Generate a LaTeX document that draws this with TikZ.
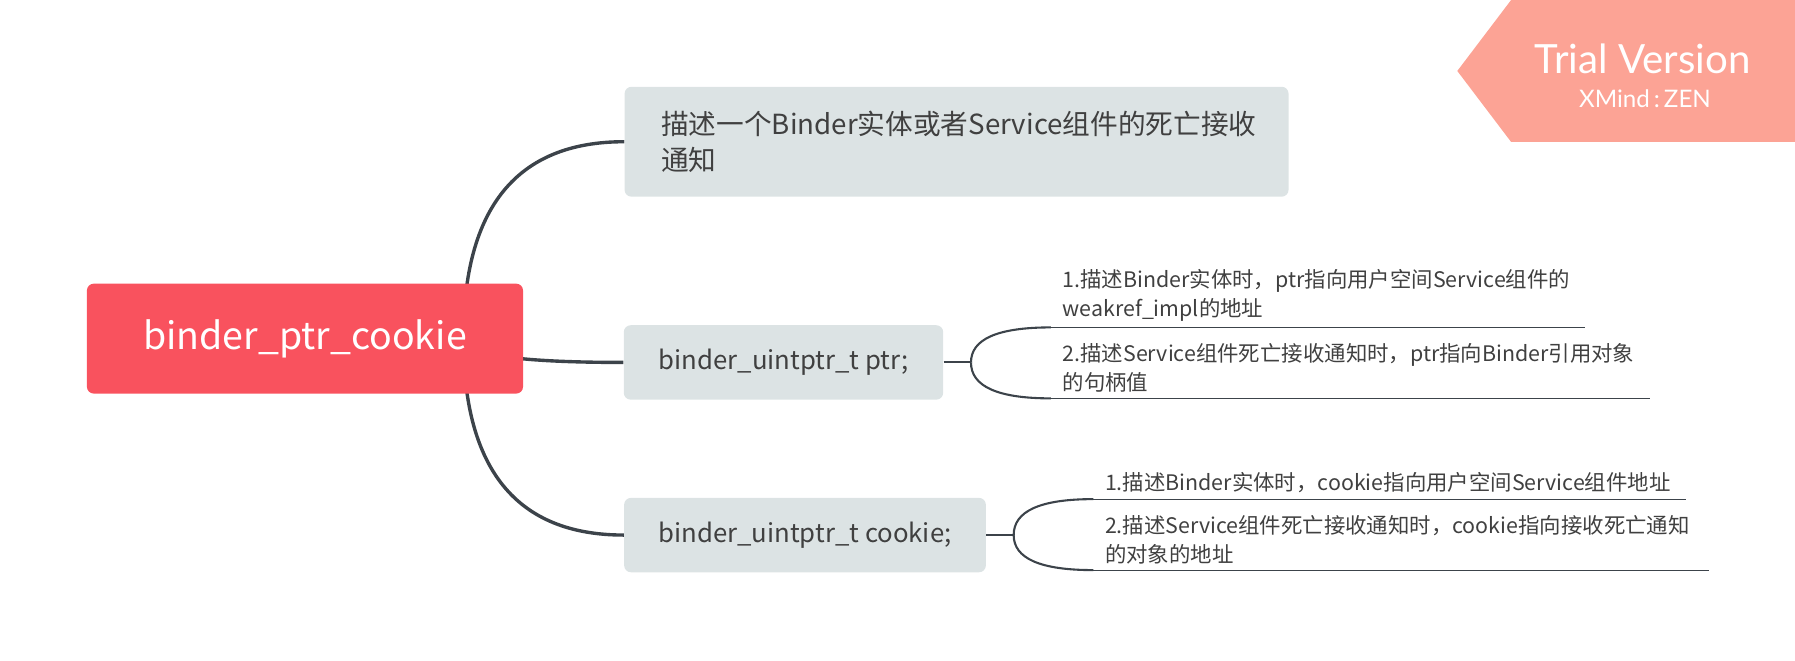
\documentclass[tikz,border=0pt]{standalone}
\usepackage{fontspec}
\usepackage{xcolor}
\usepackage{tikz}
\setmainfont{Noto Sans CJK SC}
\newfontfamily\badgefont{Lato}
\definecolor{rootred}{HTML}{F9525E}
\definecolor{topicgray}{HTML}{DCE3E4}
\definecolor{linegray}{HTML}{3C434A}
\definecolor{textgray}{HTML}{404040}
\definecolor{trialpink}{HTML}{FCA395}
\usetikzlibrary{calc, backgrounds}

\tikzset{
	topic/.style = {rectangle, rounded corners = 0.15cm, fill = topicgray, text = textgray, font = \fontsize{17.2}{22.7}\selectfont, align = left, inner xsep = 0.8cm, minimum height = 1.625cm},
	code/.style = {topic, font = \fontsize{16}{20}\selectfont, inner xsep = 0.5cm},
	leaf/.style = {anchor = south west, text = textgray, font = \fontsize{13.3}{17.7}\selectfont, align = left, inner xsep = 0.25cm, inner ysep = 0.13cm},
	branch/.style = {line width = 2.1pt, linegray},
	twig/.style = {line width = 1.3pt, linegray},
	uline/.style = {line width = 0.7pt, linegray},
	mindcurve/.style = {to path = {.. controls ($(\tikztostart)!0.667!(\tikztostart |- \tikztotarget)$) and ($(\tikztotarget)!0.667!(\tikztostart |- \tikztotarget)$) .. (\tikztotarget)}}
}

\begin{document}
\begin{tikzpicture}
	\useasboundingbox (0,0) rectangle (39.2,14.425);
	
	\node[rectangle, rounded corners = 0.15cm, fill = rootred, text = white, font = \fontsize{23.3}{28}\selectfont, minimum width = 9.525cm, minimum height = 2.4cm, xshift = 6.66cm, yshift = 7.03cm] (root) {binder\_ptr\_cookie};
	
	\node[topic, text width = 12.9cm, minimum height = 2.4cm, xshift = 20.89cm, yshift = 11.33cm] (nA) {描述一个Binder实体或者Service组件的死亡接收\\通知};
	\node[code, minimum width = 6.975cm, xshift = 17.11cm, yshift = 6.51cm] (nB) {binder\_uintptr\_t ptr;};
	\node[code, minimum width = 7.9cm, xshift = 17.58cm, yshift = 2.74cm] (nC) {binder\_uintptr\_t cookie;};
	
	\node[leaf, text width = 11.15cm, xshift = 22.95cm, yshift = 7.275cm] (lB1) {1.描述Binder实体时，ptr指向用户空间Service组件的\\weakref\_impl的地址};
	\node[leaf, text width = 12.575cm, xshift = 22.95cm, yshift = 5.725cm] (lB2) {2.描述Service组件死亡接收通知时，ptr指向Binder引用对象\\的句柄值};
	\node[leaf, text width = 12.425cm, xshift = 23.875cm, yshift = 3.525cm] (lC1) {1.描述Binder实体时，cookie指向用户空间Service组件地址};
	\node[leaf, text width = 12.925cm, xshift = 23.875cm, yshift = 1.975cm] (lC2) {2.描述Service组件死亡接收通知时，cookie指向接收死亡通知\\的对象的地址};
	
	\coordinate (rO) at ($(root.center)+(3.46,0)$);
	\coordinate (bB) at ($(nB.east)+(0.6,0)$);
	\coordinate (bC) at ($(nC.east)+(0.6,0)$);
	
	% main branches
	\begin{scope}[on background layer]
		\draw[branch] (rO) to[mindcurve] (nA.west);
		\draw[branch] (rO) to[mindcurve] (nB.west);
		\draw[branch] (rO) to[mindcurve] (nC.west);
	\end{scope}
	
	% sub branches
	\draw[twig] (nB.east) -- (bB);
	\draw[twig] (bB) to[mindcurve] (lB1.south west);
	\draw[twig] (bB) to[mindcurve] (lB2.south west);
	\draw[uline] (lB1.south west) -- (lB1.south east);
	\draw[uline] (lB2.south west) -- (lB2.south east);
	
	\draw[twig] (nC.east) -- (bC);
	\draw[twig] (bC) to[mindcurve] (lC1.south west);
	\draw[twig] (bC) to[mindcurve] (lC2.south west);
	\draw[uline] (lC1.south west) -- (lC1.south east);
	\draw[uline] (lC2.south west) -- (lC2.south east);
	
	% trial badge
	\fill[trialpink] (31.825,12.875) -- (33.0,14.425) -- (39.2,14.425) -- (39.2,11.325) -- (33.0,11.325) -- cycle;
	\node[anchor = base, text = white, font = \badgefont\fontsize{25}{30}\selectfont] (trial) at (35.875,12.825) {Trial Version};
	\node[anchor = base, text = white, font = \badgefont\fontsize{15}{18}\selectfont] (xmind) at (35.925,12.075) {XMind\,:\,ZEN};
	
\end{tikzpicture}
\end{document}
